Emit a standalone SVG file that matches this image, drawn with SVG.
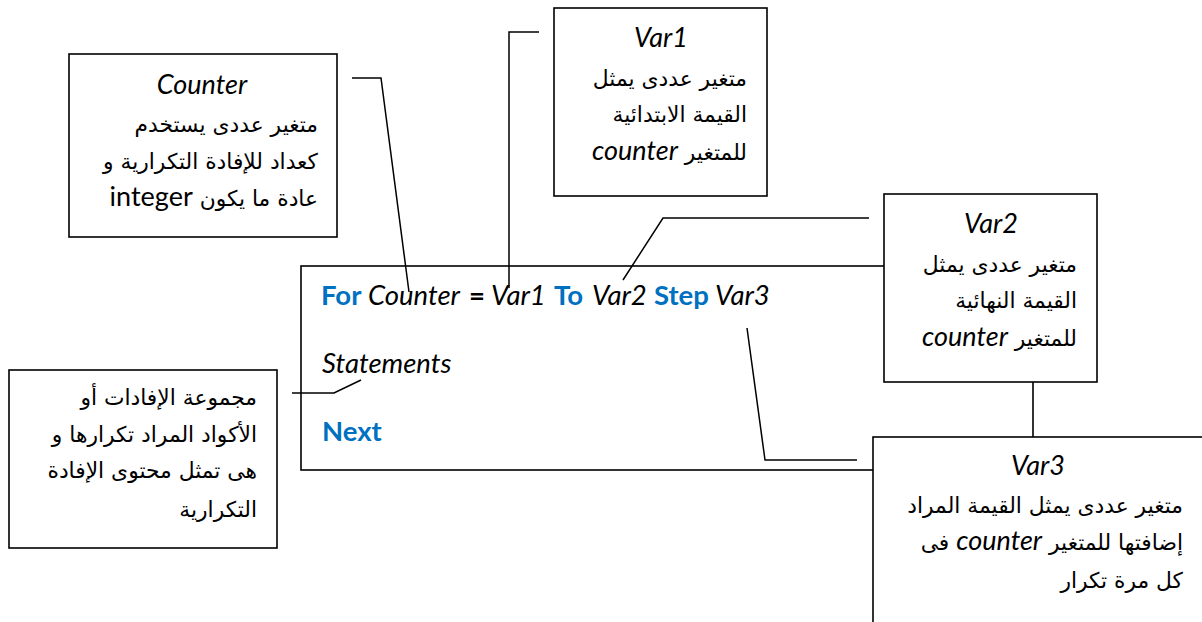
<svg xmlns="http://www.w3.org/2000/svg" width="1202" height="622" viewBox="0 0 1202 622">
<style>
.box{fill:#fff;stroke:#000;stroke-width:1.6}
.con{fill:none;stroke:#000;stroke-width:1.5}
.ar{font-family:"DejaVu Sans","Noto Sans",sans-serif;font-size:21.8px;fill:#000}
.lat{font-family:Lato,"Open Sans",sans-serif;font-style:italic;font-size:27px;fill:#000}
.up{font-family:Lato,"Open Sans",sans-serif;font-size:27px;fill:#000}
.code{font-family:Lato,"Open Sans",sans-serif;font-size:27.5px;fill:#000}
.kw{font-weight:bold;fill:#0070C0}
.it{font-style:italic}
.b{font-weight:bold}
</style>
<rect width="1202" height="622" fill="#fff"/>
<g id="code">
<rect class="box" x="301" y="266" width="732" height="204"/>
<text class="code" y="305"><tspan class="kw" x="321">For</tspan><tspan class="it" x="368">Counter</tspan><tspan class="b" x="469">=</tspan><tspan class="it" x="491">Var1</tspan><tspan class="kw" x="554">To</tspan><tspan class="it" x="592">Var2</tspan><tspan class="kw" x="654">Step</tspan><tspan class="it" x="715">Var3</tspan></text>
<text class="code it" x="322" y="373">Statements</text>
<text class="code kw" x="322" y="441">Next</text>
</g>
<g id="connectors">
<polyline class="con" points="352,78 381,78 409,292"/>
<polyline class="con" points="539,32 509,32 509,288"/>
<polyline class="con" points="869,218 663,218 623,280"/>
<polyline class="con" points="747,328 765,460 857,460"/>
<polyline class="con" points="292,393 334,393 361,380"/>
</g>
<g id="counter-box">
<rect class="box" x="69" y="54" width="268" height="183"/>
<text class="lat" x="202" y="94" text-anchor="middle">Counter</text>
<text class="ar" x="318" y="132" direction="rtl" text-anchor="start">متغير عددى يستخدم</text>
<text class="ar" x="318" y="169" direction="rtl" text-anchor="start">كعداد للإفادة التكرارية و</text>
<text class="ar" x="318" y="206" direction="rtl" text-anchor="start">عادة ما يكون <tspan class="up">integer</tspan></text>
</g>
<g id="var1-box">
<rect class="box" x="554" y="8" width="213" height="188"/>
<text class="lat" x="661" y="47" text-anchor="middle">Var1</text>
<text class="ar" x="747" y="86" direction="rtl" text-anchor="start">متغير عددى يمثل</text>
<text class="ar" x="747" y="122" direction="rtl" text-anchor="start">القيمة الابتدائية</text>
<text class="ar" x="747" y="160" direction="rtl" text-anchor="start">للمتغير <tspan class="lat">counter</tspan></text>
</g>
<g id="var2-box">
<rect class="box" x="884" y="194" width="213" height="188"/>
<text class="lat" x="991" y="233" text-anchor="middle">Var2</text>
<text class="ar" x="1077" y="272" direction="rtl" text-anchor="start">متغير عددى يمثل</text>
<text class="ar" x="1077" y="308" direction="rtl" text-anchor="start">القيمة النهائية</text>
<text class="ar" x="1077" y="346" direction="rtl" text-anchor="start">للمتغير <tspan class="lat">counter</tspan></text>
</g>
<g id="var3-box">
<rect class="box" x="873" y="437" width="345" height="200"/>
<text class="lat" x="1038" y="475" text-anchor="middle">Var3</text>
<text class="ar" x="1183" y="513" direction="rtl" text-anchor="start">متغير عددى يمثل القيمة المراد</text>
<text class="ar" x="1183" y="550" direction="rtl" text-anchor="start">إضافتها للمتغير <tspan class="lat">counter</tspan> فى</text>
<text class="ar" x="1183" y="588" direction="rtl" text-anchor="start">كل مرة تكرار</text>
</g>
<g id="statements-box">
<rect class="box" x="9" y="370" width="268" height="178"/>
<text class="ar" x="257" y="405" direction="rtl" text-anchor="start">مجموعة الإفادات أو</text>
<text class="ar" x="257" y="442" direction="rtl" text-anchor="start">الأكواد المراد تكرارها و</text>
<text class="ar" x="257" y="478" direction="rtl" text-anchor="start">هى تمثل محتوى الإفادة</text>
<text class="ar" x="257" y="517" direction="rtl" text-anchor="start">التكرارية</text>
</g>
</svg>
